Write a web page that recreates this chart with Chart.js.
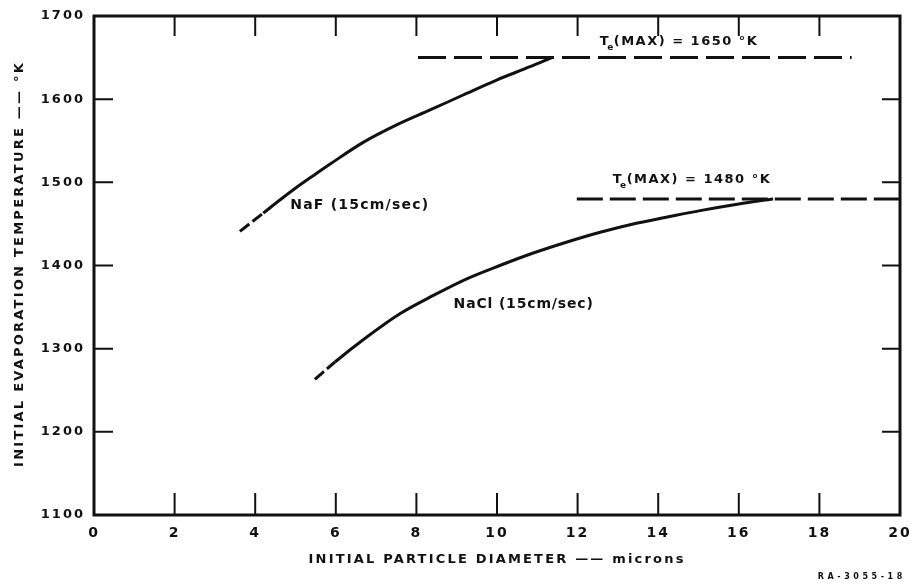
<!DOCTYPE html>
<html>
<head>
<meta charset="utf-8">
<script src="https://cdn.jsdelivr.net/npm/chart.js@4.4.1/dist/chart.umd.min.js"></script>
<style>
  html, body { margin: 0; padding: 0; background: #fff; }
  #wrap { position: relative; width: 914px; height: 587px; }
</style>
</head>
<body>
<div id="wrap"><canvas id="chart"></canvas></div>
<script>
// NaF curve (first segment drawn dashed)
const diameterNaF = [3.62, 4.2, 4.62, 5.03, 5.44, 5.86, 6.68, 7.51, 8.34, 9.16, 9.99, 10.82, 11.36];
const tempNaF = [1441, 1463, 1479, 1494, 1508, 1522, 1548, 1569, 1587, 1605, 1623, 1639, 1650];

// NaCl curve (first segment drawn dashed)
const diameterNaCl = [5.48, 5.98, 6.77, 7.59, 8.42, 9.25, 10.07, 10.9, 11.72, 12.56, 13.38, 14.2, 15.04, 16.0, 16.85];
const tempNaCl = [1263, 1284, 1314, 1342, 1364, 1384, 1400, 1415, 1428, 1440, 1450, 1458, 1466, 1474, 1480];

// Te(MAX) limits
const maxNaF = 1650;
const maxNaFRange = [8.04, 18.8];
const maxNaCl = 1480;
const maxNaClRange = [11.98, 20];

const xTicks = [0, 2, 4, 6, 8, 10, 12, 14, 16, 18, 20];
const yTicks = [1100, 1200, 1300, 1400, 1500, 1600, 1700];

const INK = '#111';
const FONT = '"DejaVu Sans", sans-serif';

const toPoints = (xs, ys) => xs.map((x, i) => ({ x, y: ys[i] }));

// draw text with letter spacing so it fills a given width
function spacedText(ctx, text, cx, cy, width, font) {
  ctx.font = font;
  ctx.letterSpacing = '0px';
  const plain = ctx.measureText(text).width;
  const sp = Math.max(0, (width - plain) / text.length);
  ctx.letterSpacing = sp + 'px';
  ctx.textAlign = 'center';
  ctx.textBaseline = 'middle';
  ctx.fillText(text, cx + sp / 2, cy);
  ctx.letterSpacing = '0px';
}

// T_e(MAX) label with subscript
function tmaxLabel(ctx, value, left, cy) {
  ctx.textAlign = 'left';
  ctx.textBaseline = 'middle';
  ctx.letterSpacing = '1.5px';
  ctx.font = 'bold 13px ' + FONT;
  ctx.fillText('T', left, cy);
  let x = left + ctx.measureText('T').width - 3;
  ctx.font = 'bold 9px ' + FONT;
  ctx.fillText('e', x, cy + 6);
  x += ctx.measureText('e').width - 1;
  ctx.font = 'bold 13px ' + FONT;
  ctx.fillText('(MAX) = ' + value + ' °K', x, cy);
  ctx.letterSpacing = '0px';
}

const framePlugin = {
  id: 'frame',
  beforeLayout(chart) { chart.ctx.letterSpacing = '2px'; },
  beforeDraw(chart) {
    const ctx = chart.ctx;
    ctx.save();
    ctx.fillStyle = '#fff';
    ctx.fillRect(0, 0, chart.width, chart.height);
    ctx.restore();
    ctx.letterSpacing = '2px';
  },
  afterDraw(chart) {
    const { ctx, chartArea: a, scales } = chart;
    const xs = scales.x, ys = scales.y;
    ctx.save();
    ctx.strokeStyle = INK;
    ctx.fillStyle = INK;
    ctx.lineWidth = 3;
    ctx.strokeRect(a.left, a.top, a.right - a.left, a.bottom - a.top);

    // inward tick marks
    ctx.lineWidth = 2;
    ctx.beginPath();
    xTicks.slice(1, -1).forEach(v => {
      const px = xs.getPixelForValue(v);
      ctx.moveTo(px, a.bottom); ctx.lineTo(px, a.bottom - 22);
      ctx.moveTo(px, a.top); ctx.lineTo(px, a.top + 20);
    });
    yTicks.slice(1, -1).forEach(v => {
      const py = ys.getPixelForValue(v);
      ctx.moveTo(a.left, py); ctx.lineTo(a.left + 19, py);
      ctx.moveTo(a.right, py); ctx.lineTo(a.right - 18, py);
    });
    ctx.stroke();

    // axis titles
    spacedText(ctx, 'INITIAL PARTICLE DIAMETER —— microns', 496, 560, 377, 'bold 13px ' + FONT);
    ctx.save();
    ctx.translate(20, 265);
    ctx.rotate(-Math.PI / 2);
    spacedText(ctx, 'INITIAL EVAPORATION TEMPERATURE —— °K', 0, 0, 406, 'bold 13px ' + FONT);
    ctx.restore();
    spacedText(ctx, 'RA-3055-18', 860, 577, 88, 'bold 8px ' + FONT);

    // curve labels
    spacedText(ctx, 'NaF (15cm/sec)', xs.getPixelForValue(6.58), 205, 139, 'bold 14px ' + FONT);
    spacedText(ctx, 'NaCl (15cm/sec)', xs.getPixelForValue(10.65), 304, 140, 'bold 14px ' + FONT);

    // T_e(MAX) labels
    tmaxLabel(ctx, '1650', xs.getPixelForValue(12.55), ys.getPixelForValue(maxNaF) - 16);
    tmaxLabel(ctx, '1480', xs.getPixelForValue(12.87), ys.getPixelForValue(maxNaCl) - 19);
    ctx.restore();
  }
};

const curveStyle = {
  borderColor: INK,
  borderWidth: 3,
  pointRadius: 0,
  fill: false,
  cubicInterpolationMode: 'monotone',
  segment: { borderDash: c => c.p0DataIndex === 0 ? [12, 4] : undefined }
};

new Chart(document.getElementById('chart'), {
  type: 'line',
  data: {
    datasets: [
      { label: 'NaF', data: toPoints(diameterNaF, tempNaF), ...curveStyle },
      { label: 'NaCl', data: toPoints(diameterNaCl, tempNaCl), ...curveStyle },
      {
        label: 'NaF max', data: toPoints(maxNaFRange, [maxNaF, maxNaF]),
        borderColor: INK, borderWidth: 3, pointRadius: 0, borderDash: [28, 8]
      },
      {
        label: 'NaCl max', data: toPoints(maxNaClRange, [maxNaCl, maxNaCl]),
        borderColor: INK, borderWidth: 3, pointRadius: 0, borderDash: [26, 7]
      }
    ]
  },
  options: {
    responsive: true,
    maintainAspectRatio: false,
    animation: false,
    devicePixelRatio: 1,
    layout: { padding: { top: 16, right: 14, left: 0, bottom: 0 } },
    plugins: { legend: { display: false }, tooltip: { enabled: false } },
    scales: {
      x: {
        type: 'linear', min: 0, max: 20,
        afterBuildTicks: s => { s.ticks = xTicks.map(v => ({ value: v })); },
        afterFit: s => { s.height = 72; s.paddingLeft = 0; s.paddingRight = 0; },
        grid: { display: false, drawTicks: false },
        border: { display: false },
        ticks: {
          color: INK, padding: 10, maxRotation: 0,
          callback: v => String(v),
          font: { family: FONT, size: 14, weight: 'bold' }
        }
      },
      y: {
        type: 'linear', min: 1100, max: 1700,
        afterBuildTicks: s => { s.ticks = yTicks.map(v => ({ value: v })); },
        afterFit: s => { s.width = 94; s.paddingTop = 0; s.paddingBottom = 0; },
        grid: { display: false, drawTicks: false },
        border: { display: false },
        ticks: {
          color: INK, padding: 9,
          callback: v => String(v),
          font: { family: FONT, size: 13, weight: 'bold' }
        }
      }
    }
  },
  plugins: [framePlugin]
});
</script>
</body>
</html>
